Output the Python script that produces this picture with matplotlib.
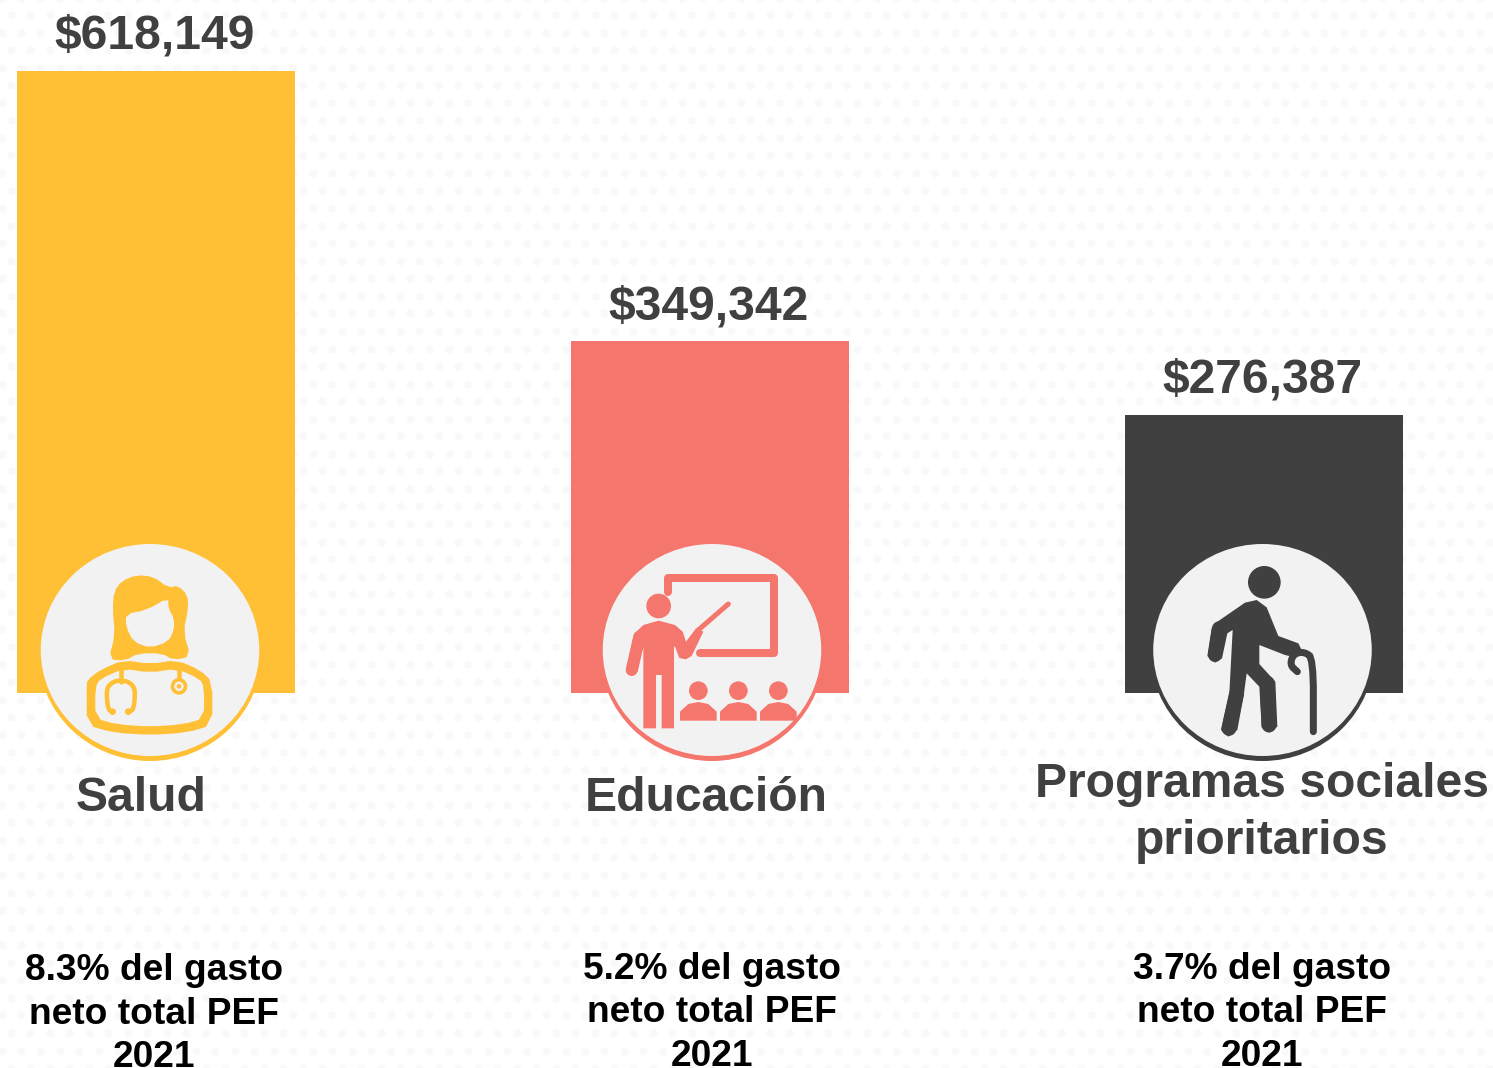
import numpy as np
import matplotlib
matplotlib.use("Agg")
import matplotlib.pyplot as plt
from matplotlib.patches import Circle, Ellipse, Polygon

plt.rcParams["font.family"] = ["Liberation Sans", "DejaVu Sans"]

W, H = 1493, 1068
DPI = 100

# Data
categories = ["Salud", "Educación", "Programas sociales\nprioritarios"]
values = [618149, 349342, 276387]
shares = ["8.3%", "5.2%", "3.7%"]
colors = ["#FFC036", "#F5766D", "#404040"]

bar_x = [156, 710, 1264]
circle_x = [150, 712, 1262.5]
name_x = [141.5, 706, 1262]
name_y = [811, 811, 797]
share_x = [154, 712, 1262]
share_y = [980, 979, 979]
base_y = 692.5
px_per_unit = 621.5 / 618149


def pt(px):
	return px * 72 / DPI


def smooth(points, n=2):
	# corner cutting, so the icon outlines do not look like polygons
	p = np.array(points, dtype=float)
	for _ in range(n):
		q = np.roll(p, -1, axis=0)
		p = np.column_stack([0.75 * p + 0.25 * q, 0.25 * p + 0.75 * q]).reshape(-1, 2)
	return p


def smooth_open(points, n=2):
	p = np.array(points, dtype=float)
	for _ in range(n):
		a, b = p[:-1], p[1:]
		mid = np.column_stack([0.75 * a + 0.25 * b, 0.25 * a + 0.75 * b]).reshape(-1, 2)
		p = np.vstack([p[0], mid, p[-1]])
	return p


fig = plt.figure(figsize=(W / DPI, H / DPI), dpi=DPI, facecolor="white")

# Background dots, in pixel coordinates
ax_bg = fig.add_axes([0, 0, 1, 1], zorder=0)
ax_bg.set_xlim(0, W)
ax_bg.set_ylim(H, 0)
ax_bg.axis("off")

for j, y in enumerate(np.arange(-2.5, H + 10, 17.55)):
	start = 1.5 if j % 2 == 0 else 11.0
	xs = np.arange(start, W + 10, 19.45)
	ax_bg.scatter(xs, np.full(xs.shape, y), s=pt(8) ** 2, color="#F9F9F9", linewidths=0)

# Bars, on their own axes with the baseline at the top of the lower part
ax = fig.add_axes([0, (H - base_y) / H, 1, base_y / H], zorder=1)
ax.patch.set_alpha(0)
ax.set_xlim(0, W)
ax.set_ylim(0, base_y / px_per_unit)
ax.axis("off")
ax.bar(bar_x, values, width=278.3, color=colors)

for x, v in zip(bar_x, values):
	ax.annotate(f"${v:,}", (x, v), xytext=(-1, pt(22)), textcoords="offset points", ha="center",
				va="baseline", fontsize=pt(48), fontweight="bold", color="#404040")

# Overlay for icons and text
ov = fig.add_axes([0, 0, 1, 1], zorder=2)
ov.patch.set_alpha(0)
ov.set_xlim(0, W)
ov.set_ylim(H, 0)
ov.axis("off")

GREY = "#F2F2F2"


def to_px(points, off):
	return np.array(points, dtype=float) / 3 + np.array(off)


def shape(points, off, color, n=2):
	p = smooth(points, n) if n else np.array(points, dtype=float)
	ov.add_patch(Polygon(to_px(p, off), closed=True, fc=color, ec="none", zorder=5))


def stroke(points, off, color, w, n=2):
	p = smooth_open(points, n) if n else np.array(points, dtype=float)
	p = to_px(p, off)
	ov.plot(p[:, 0], p[:, 1], color=color, lw=pt(w), solid_capstyle="round",
			solid_joinstyle="round", zorder=5)


def dot(x, y, r, off, color):
	cx, cy = to_px([x, y], off)
	ov.add_patch(Circle((cx, cy), r / 3, fc=color, ec="none", zorder=5))


for x, c in zip(circle_x, colors):
	ov.add_patch(Ellipse((x, 652), 224, 218, fc=c, ec="none", zorder=3))
	ov.add_patch(Ellipse((x, 650), 218.5, 212, fc=GREY, ec="none", zorder=4))

# Doctor
off, c = (0, 530), colors[0]
shape([(260, 470), (262, 450), (300, 420), (370, 390), (450, 402), (530, 390), (600, 420), (637, 455), (637, 585),
		(560, 608), (450, 615), (340, 608), (260, 585)], off, c, n=1)
shape([(286, 472), (300, 447), (370, 416), (450, 428), (530, 416), (600, 447), (612, 472), (612, 565), (550, 583),
		(450, 590), (350, 583), (286, 565)], off, GREY, n=1)
shape([(338, 240), (342, 185), (365, 153), (410, 135), (460, 140), (505, 173), (535, 167), (562, 195), (565, 235),
		(550, 305), (572, 380), (520, 390), (485, 370), (415, 370), (375, 392), (326, 388), (345, 315)], off, c, n=1)
shape([(378, 252), (440, 240), (505, 203), (505, 235), (522, 265), (522, 300), (505, 335), (450, 354), (400, 335),
		(378, 290)], off, GREY, n=1)
stroke([(362, 410), (362, 455)], off, c, 4.5, n=0)
stroke([(338, 545), (325, 540), (320, 500), (322, 470), (345, 452), (380, 452), (403, 470), (405, 500), (400, 540),
		(385, 545)], off, c, 4.5, n=2)
dot(338, 545, 10, off, c)
dot(385, 545, 10, off, c)
stroke([(537, 410), (537, 450)], off, c, 4.5, n=0)
dot(537, 469, 25, off, c)
dot(537, 469, 14, off, GREY)
dot(537, 469, 7, off, c)

# Teacher
off, c = (560, 530), colors[1]
stroke([(325, 185), (325, 145), (642, 145), (642, 368), (420, 368)], off, c, 8, n=0)
dot(296, 228, 37, off, c)
shape([(222, 312), (250, 285), (296, 272), (345, 285), (368, 305), (378, 335), (408, 295), (430, 305), (395, 378),
		(378, 388), (358, 384), (345, 350), (342, 350), (342, 595), (305, 595), (305, 435), (288, 435), (288, 595),
		(250, 595), (250, 350), (233, 425), (215, 438), (198, 425)], off, c, n=0)
stroke([(238, 320), (215, 420)], off, c, 12, n=0)
stroke([(415, 300), (505, 222)], off, c, 5, n=0)
for dx in [0, 120, 240]:
	dot(415 + dx, 482, 28, off, c)
	shape([(360 + dx, 572), (360 + dx, 545), (385 + dx, 522), (415 + dx, 516), (445 + dx, 522), (470 + dx, 545),
			(470 + dx, 572)], off, c, n=0)

# Old man with cane
off, c = (1120, 530), colors[2]
dot(433, 157, 49, off, c)
shape([(285, 280), (375, 218), (410, 210), (440, 232), (475, 318), (535, 340), (545, 360), (525, 382), (495, 375),
		(418, 345), (418, 402), (466, 455), (472, 590), (447, 608), (425, 592), (418, 470), (380, 430), (372, 490),
		(352, 600), (325, 620), (303, 600), (328, 490), (338, 300), (322, 310), (306, 385), (285, 398), (262, 378),
		(275, 295)], off, c, n=0)
stroke([(297, 295), (285, 375)], off, c, 14, n=0)
stroke([(350, 490), (327, 595)], off, c, 15, n=0)
stroke([(442, 460), (447, 585)], off, c, 15, n=0)
stroke([(455, 335), (522, 362)], off, c, 11, n=0)
stroke([(532, 425), (510, 405), (520, 372), (552, 365), (580, 385), (580, 605)], off, c, 7)

# Category names
for x, y, name in zip(name_x, name_y, categories):
	for k, line in enumerate(name.split("\n")):
		ov.text(x, y + 57 * k, line, ha="center", va="baseline", fontsize=pt(48), fontweight="bold",
				color="#404040", zorder=6)

# Share of the budget
for x, y, s in zip(share_x, share_y, shares):
	for k, line in enumerate([f"{s} del gasto", "neto total PEF", "2021"]):
		ov.text(x, y + 43.5 * k, line, ha="center", va="baseline", fontsize=pt(37.1), fontweight="bold",
				color="black", zorder=6)

fig.savefig("out.png", dpi=DPI)
